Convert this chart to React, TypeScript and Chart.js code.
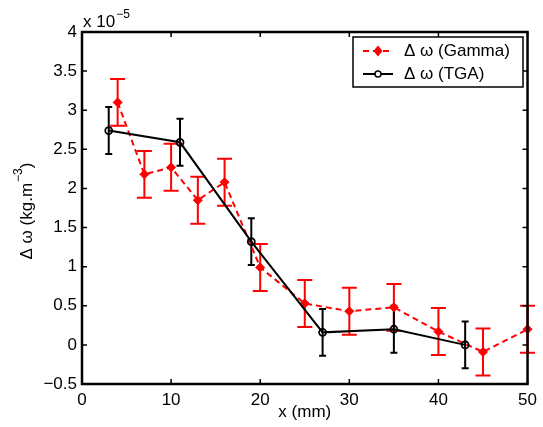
import React, { useEffect, useRef } from 'react';
import { Chart, registerables } from 'chart.js';

Chart.register(...registerables);

// Data (values in units of 1e-5 kg.m^-3)
const gammaX = [4, 7, 10, 13, 16, 20, 25, 30, 35, 40, 45, 50];
const gammaY = [3.10, 2.18, 2.27, 1.85, 2.08, 0.99, 0.53, 0.43, 0.48, 0.17, -0.09, 0.20];
const gammaErr = [0.3, 0.3, 0.3, 0.3, 0.3, 0.3, 0.3, 0.3, 0.3, 0.3, 0.3, 0.3];
const tgaX = [3, 11, 19, 27, 35, 43];
const tgaY = [2.74, 2.59, 1.32, 0.16, 0.20, 0.0];
const tgaErr = [0.3, 0.3, 0.3, 0.3, 0.3, 0.3];
const xTicks = [0, 10, 20, 30, 40, 50];
const yTicks = [-0.5, 0, 0.5, 1, 1.5, 2, 2.5, 3, 3.5, 4];
const seriesLabels = ['\u0394 \u03c9 (Gamma)', '\u0394 \u03c9 (TGA)'];
const xTitle = 'x (mm)';
const yTitleMain = '\u0394 \u03c9 (kg.m';
const yTitleSup = '\u22123';
const yTitleEnd = ')';
const expMain = 'x 10';
const expSup = '\u22125';

const FONT = '"Liberation Sans", Arial, Helvetica, sans-serif';
const FS = 17;
const RED = '#ff0000';
const BLACK = '#000000';

const errors = [gammaErr, tgaErr];
const capHalf = [7.5, 3.5];

const decorPlugin = {
  id: 'decor',
  beforeDatasetsDraw(chart: any) {
    const { ctx, scales } = chart;
    const xs = scales.x;
    const ys = scales.y;
    chart.data.datasets.forEach((ds: any, di: number) => {
      ctx.save();
      ctx.strokeStyle = ds.borderColor;
      ctx.lineWidth = 2;
      ctx.setLineDash([]);
      ds.data.forEach((p: any, i: number) => {
        const e = errors[di][i];
        const px = xs.getPixelForValue(p.x);
        const yt = ys.getPixelForValue(p.y + e);
        const yb = ys.getPixelForValue(p.y - e);
        const h = capHalf[di];
        ctx.beginPath();
        ctx.moveTo(px, yt);
        ctx.lineTo(px, yb);
        ctx.moveTo(px - h, yt);
        ctx.lineTo(px + h, yt);
        ctx.moveTo(px - h, yb);
        ctx.lineTo(px + h, yb);
        ctx.stroke();
      });
      ctx.restore();
    });
  },
  afterDraw(chart: any) {
    const { ctx, chartArea, scales } = chart;
    const { left, right, top, bottom } = chartArea;
    const xs = scales.x;
    const ys = scales.y;
    ctx.save();
    ctx.strokeStyle = BLACK;
    ctx.lineWidth = 2.5;
    ctx.setLineDash([]);
    ctx.strokeRect(left, top, right - left, bottom - top);
    // inward ticks
    ctx.lineWidth = 1.5;
    const tl = 5;
    ctx.beginPath();
    xTicks.forEach((v) => {
      const px = xs.getPixelForValue(v);
      ctx.moveTo(px, bottom);
      ctx.lineTo(px, bottom - tl);
      ctx.moveTo(px, top);
      ctx.lineTo(px, top + tl);
    });
    yTicks.forEach((v) => {
      const py = ys.getPixelForValue(v);
      ctx.moveTo(left, py);
      ctx.lineTo(left + tl, py);
      ctx.moveTo(right, py);
      ctx.lineTo(right - tl, py);
    });
    ctx.stroke();

    // legend
    const lx = 353, ly = 37, lw = 170, lh = 50;
    ctx.fillStyle = '#ffffff';
    ctx.fillRect(lx, ly, lw, lh);
    ctx.lineWidth = 1.5;
    ctx.strokeStyle = BLACK;
    ctx.strokeRect(lx, ly, lw, lh);
    const rows = [51, 74];
    chart.data.datasets.forEach((ds: any, di: number) => {
      const y = rows[di];
      ctx.save();
      ctx.strokeStyle = ds.borderColor;
      ctx.lineWidth = 2;
      ctx.setLineDash(di === 0 ? [6, 4] : []);
      ctx.beginPath();
      ctx.moveTo(363, y);
      ctx.lineTo(393, y);
      ctx.stroke();
      ctx.setLineDash([]);
      if (di === 0) {
        ctx.fillStyle = RED;
        ctx.beginPath();
        ctx.moveTo(378, y - 5.5);
        ctx.lineTo(382.5, y);
        ctx.lineTo(378, y + 5.5);
        ctx.lineTo(373.5, y);
        ctx.closePath();
        ctx.fill();
      } else {
        ctx.fillStyle = '#ffffff';
        ctx.lineWidth = 1.5;
        ctx.beginPath();
        ctx.arc(378, y, 3, 0, Math.PI * 2);
        ctx.fill();
        ctx.stroke();
      }
      ctx.restore();
      ctx.fillStyle = BLACK;
      ctx.font = FS + 'px ' + FONT;
      ctx.textAlign = 'left';
      ctx.textBaseline = 'middle';
      ctx.fillText(ds.label, 404, y);
    });

    // exponent label
    ctx.fillStyle = BLACK;
    ctx.textBaseline = 'alphabetic';
    ctx.textAlign = 'left';
    ctx.font = FS + 'px ' + FONT;
    ctx.fillText(expMain, 83, 27);
    const ew = ctx.measureText(expMain).width;
    ctx.font = '12px ' + FONT;
    ctx.fillText(expSup, 83 + ew + 1, 18);

    // y title with superscript
    ctx.save();
    ctx.translate(27, 211);
    ctx.rotate(-Math.PI / 2);
    ctx.font = FS + 'px ' + FONT;
    const w1 = ctx.measureText(yTitleMain).width;
    const w3 = ctx.measureText(yTitleEnd).width;
    ctx.font = '12px ' + FONT;
    const w2 = ctx.measureText(yTitleSup).width;
    const total = w1 + w2 + w3 + 1;
    let cx = -total / 2;
    ctx.textBaseline = 'middle';
    ctx.font = FS + 'px ' + FONT;
    ctx.fillText(yTitleMain, cx, 0);
    cx += w1;
    ctx.font = '12px ' + FONT;
    ctx.fillText(yTitleSup, cx + 1, -8);
    cx += w2 + 1;
    ctx.font = FS + 'px ' + FONT;
    ctx.fillText(yTitleEnd, cx, 0);
    ctx.restore();

    ctx.restore();
  },
};

function fmt(v: number): string {
  return v < 0 ? '\u2212' + String(Math.abs(v)) : String(v);
}

export default function App() {
  const ref = useRef<HTMLCanvasElement | null>(null);
  useEffect(() => {
    document.body.style.margin = '0';
    const canvas = ref.current;
    if (!canvas) return;
    Chart.defaults.font.family = FONT;
    Chart.defaults.font.size = FS;
    Chart.defaults.color = BLACK;
    const chart = new Chart(canvas, {
      type: 'line',
      data: {
        datasets: [
          {
            label: seriesLabels[0],
            data: gammaX.map((x, i) => ({ x, y: gammaY[i] })),
            borderColor: RED,
            backgroundColor: RED,
            borderWidth: 2,
            borderDash: [6, 4],
            pointStyle: 'rectRot',
            pointRadius: 4.5,
            pointBackgroundColor: RED,
            pointBorderColor: RED,
            pointBorderWidth: 1,
            tension: 0,
            clip: false,
            order: 2,
          },
          {
            label: seriesLabels[1],
            data: tgaX.map((x, i) => ({ x, y: tgaY[i] })),
            borderColor: BLACK,
            backgroundColor: BLACK,
            borderWidth: 2,
            pointStyle: 'circle',
            pointRadius: 3.5,
            pointBackgroundColor: 'rgba(255,255,255,0)',
            pointBorderColor: BLACK,
            pointBorderWidth: 1.8,
            tension: 0,
            clip: false,
            order: 1,
          },
        ],
      } as any,
      options: {
        animation: false,
        responsive: false,
        maintainAspectRatio: false,
        layout: { padding: { top: 32, right: 15, left: 0, bottom: 0 } },
        plugins: {
          legend: { display: false },
          tooltip: { enabled: false },
        },
        scales: {
          x: {
            type: 'linear',
            min: 0,
            max: 50,
            afterBuildTicks: (s: any) => {
              s.ticks = xTicks.map((v) => ({ value: v }));
            },
            afterFit: (s: any) => {
              s.height = 43;
            },
            ticks: { padding: 6, maxRotation: 0, autoSkip: false, callback: (v: any) => fmt(Number(v)), font: { size: FS } },
            grid: { display: true, drawOnChartArea: false, drawTicks: false },
            border: { display: false },
            title: { display: true, text: xTitle, font: { size: FS }, padding: { top: 0, bottom: 4 } },
          },
          y: {
            type: 'linear',
            min: -0.5,
            max: 4,
            afterBuildTicks: (s: any) => {
              s.ticks = yTicks.map((v) => ({ value: v }));
            },
            afterFit: (s: any) => {
              s.width = 82;
            },
            ticks: { padding: 5, autoSkip: false, callback: (v: any) => fmt(Number(v)), font: { size: FS } },
            grid: { display: true, drawOnChartArea: false, drawTicks: false },
            border: { display: false },
          },
        },
      } as any,
      plugins: [decorPlugin],
    });
    return () => chart.destroy();
  }, []);
  return <canvas ref={ref} width={543} height={427} style={{ display: 'block' }} />;
}
